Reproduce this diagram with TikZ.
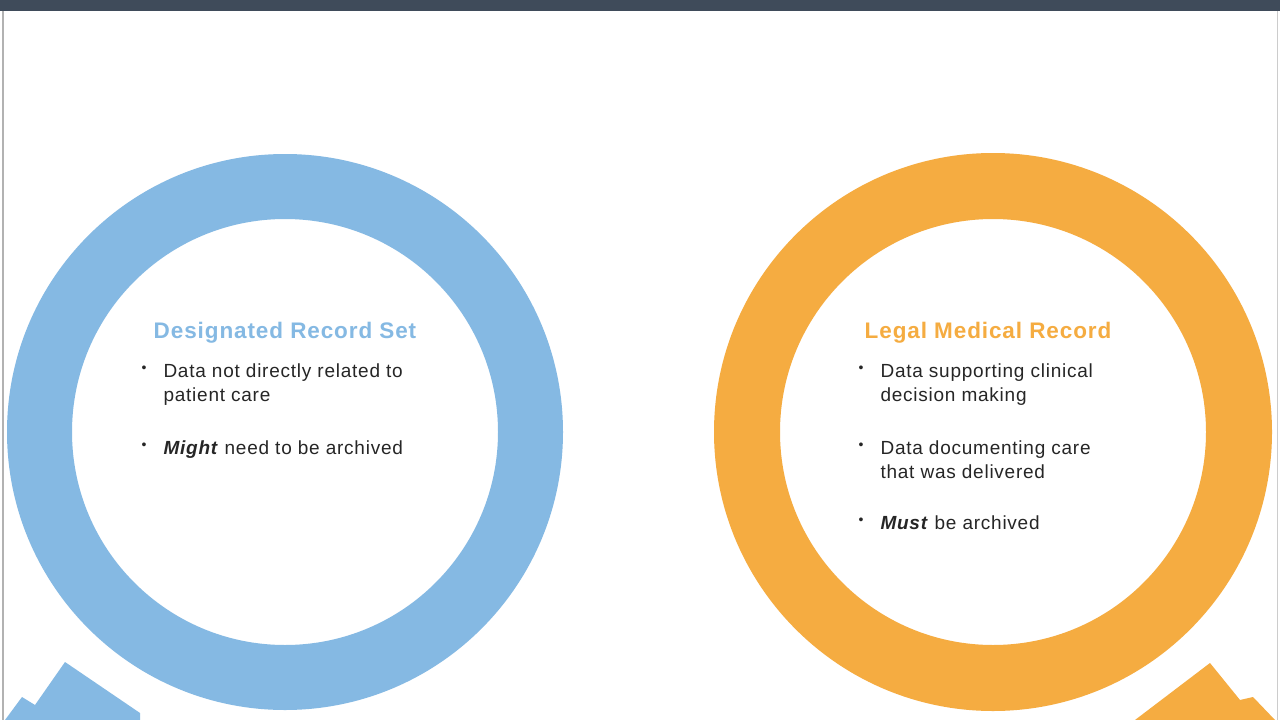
\documentclass[tikz,border=0pt]{standalone}
\usepackage{fontspec}
\setmainfont{Liberation Sans}
\definecolor{blu}{HTML}{85B9E3}
\definecolor{org}{HTML}{F5AC41}
\definecolor{bar}{HTML}{3F4B5A}
\begin{document}
\begin{tikzpicture}[x=1pt,y=-1pt,
 ttl/.style={font=\fontsize{22.5}{24}\selectfont\bfseries\addfontfeature{LetterSpace=4},anchor=center},
 bul/.style={font=\fontsize{19}{24.5}\selectfont\addfontfeature{LetterSpace=4},anchor=north west,align=left,text=black!85}]
\useasboundingbox (0,0) rectangle (1280,720);
\fill[white] (0,0) rectangle (1280,720);
\fill[bar] (0,0) rectangle (1280,11);
\draw[gray!60,line width=1.5] (3,11) -- (3,720);
\draw[gray!40,line width=1] (1277,11) -- (1277,720);
\fill[blu,even odd rule] (285,432) circle (278) (285,432) circle (213);
\fill[org,even odd rule] (993,432) circle (279) (993,432) circle (213);
\fill[blu] (5,720) -- (22,697) -- (35,705) -- (65,662) -- (140,713) -- (140,720) -- cycle;
\fill[org] (1135,720) -- (1210,663) -- (1240,700) -- (1253,697) -- (1275,720) -- cycle;
\node[ttl,text=blu] (t1) at (285,333) {Designated Record Set};
\node[ttl,text=org] (t2) at (988,333) {Legal Medical Record};
\node[bul,font=\fontsize{14}{24}\selectfont] (b1) at (138,362) {•};
\node[bul] (b1t) at (160,360) {Data not directly related to\\patient care};
\node[bul,font=\fontsize{14}{24}\selectfont] (b2) at (138,439) {•};
\node[bul] (b2t) at (160,437) {\textbf{\textit{Might}} need to be archived};
\node[bul,font=\fontsize{14}{24}\selectfont] (c1) at (855,362) {•};
\node[bul] (c1t) at (877,360) {Data supporting clinical\\decision making};
\node[bul,font=\fontsize{14}{24}\selectfont] (c2) at (855,439) {•};
\node[bul] (c2t) at (877,437) {Data documenting care\\that was delivered};
\node[bul,font=\fontsize{14}{24}\selectfont] (c3) at (855,514) {•};
\node[bul] (c3t) at (877,512) {\textbf{\textit{Must}} be archived};
\end{tikzpicture}
\end{document}
